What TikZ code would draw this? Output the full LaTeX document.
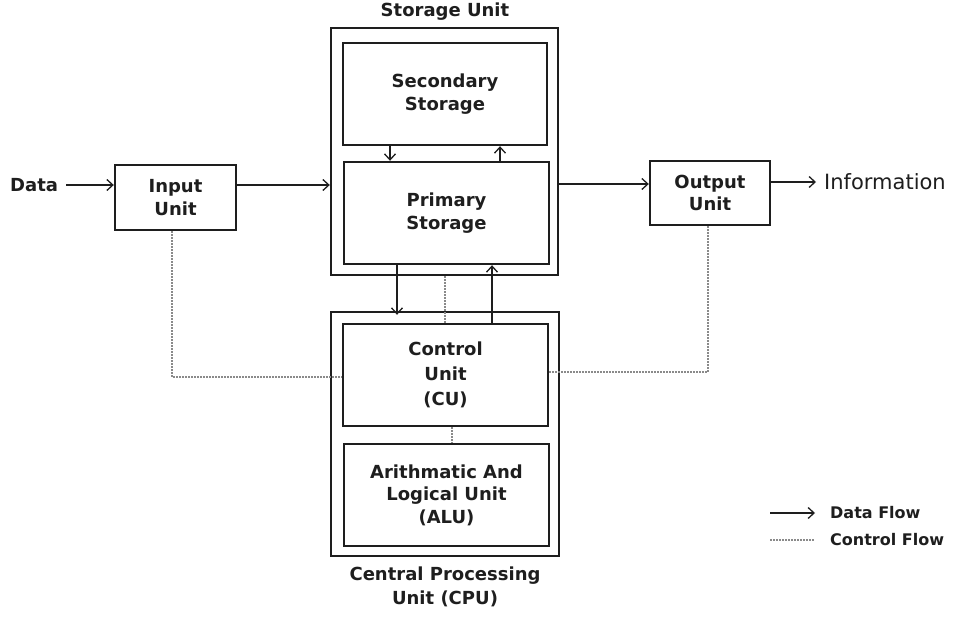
\documentclass[tikz,border=0pt]{standalone}
\usepackage{fontspec}
\setmainfont{DejaVu Sans}
\usetikzlibrary{arrows.meta,calc}
\definecolor{ink}{HTML}{1E1E1E}
\definecolor{dotc}{HTML}{8A8A8A}
\tikzset{
  box/.style={draw=ink, line width=2.4pt, rectangle, inner sep=0pt, align=center, text=ink,
    font=\fontsize{18}{22.5}\selectfont\bfseries},
  lbl/.style={text=ink, inner sep=0pt, align=center, font=\fontsize{18}{24}\selectfont\bfseries},
  flow/.style={draw=ink, line width=1.3pt, -{Straight Barb[length=6pt,width=11pt,line width=1.3pt]}},
  ctrl/.style={draw=dotc, line width=1.5pt, dash pattern=on 1.5pt off 1.5pt},
}
\begin{document}
\begin{tikzpicture}[x=1pt,y=-1pt]
\path[use as bounding box] (0,0) rectangle (955,617);
% storage unit
\node[box, minimum width=227pt, minimum height=247pt] (storage) at (444.5,151.5) {};
\node[box, minimum width=204pt, minimum height=102pt] (secondary) at (445,94) {Secondary\\Storage};
\node[box, minimum width=205pt, minimum height=102pt] (primary) at (446.5,213) {Primary\\Storage};
\node[lbl] (storagelbl) at (445,12) {Storage Unit};
% cpu
\node[box, minimum width=228pt, minimum height=244pt] (cpu) at (445,434) {};
\node[box, minimum width=205pt, minimum height=102pt, font=\fontsize{18}{25}\selectfont\bfseries] (cu) at (445.5,375) {Control\\Unit\\(CU)};
\node[box, minimum width=205pt, minimum height=102pt] (alu) at (446.5,495) {Arithmatic And\\Logical Unit\\(ALU)};
\node[lbl] (cpulbl) at (445,587) {Central Processing\\Unit (CPU)};
% input / output
\node[box, minimum width=121pt, minimum height=65pt] (input) at (175.5,197.5) {Input\\Unit};
\node[box, minimum width=120pt, minimum height=64pt] (output) at (710,193) {Output\\Unit};
\node[lbl, anchor=west] (data) at (10,185) {Data};
\node[lbl, anchor=west, font=\fontsize{21}{24}\selectfont] (info) at (824,182) {Information};
% data flow
\draw[flow] (data.east) ++(8,0) coordinate (dstart) (dstart) -- (input.west |- data);
\draw[flow] (input.east |- data) -- (storage.west |- data);
\coordinate (oy) at (600,184);
\draw[flow] (storage.east |- oy) -- (output.west |- oy);
\draw[flow] (output.east |- info) -- ($(info.west)+(-8,0)$);
% between storages
\coordinate (x390) at (390,0);
\coordinate (x500) at (500,0);
\coordinate (x397) at (397,0);
\coordinate (x492) at (492,0);
\draw[flow] (secondary.south -| x390) -- (primary.north -| x390);
\draw[flow] (primary.north -| x500) -- (secondary.south -| x500);
\draw[flow] (primary.south -| x397) -- ($(cpu.north -| x397)+(0,4)$);
\draw[flow] (cu.north -| x492) -- (primary.south -| x492);
% control flow
\coordinate (x172) at (172,0);
\coordinate (x708) at (708,0);
\coordinate (y377) at (0,377);
\coordinate (y372) at (0,372);
\coordinate (x445) at (445,0);
\coordinate (x452) at (452,0);
\draw[ctrl] (input.south -| x172) -- (x172 |- y377) -- (cu.west |- y377);
\draw[ctrl] (output.south -| x708) -- (x708 |- y372) -- (cu.east |- y372);
\draw[ctrl] (storage.south -| x445) -- (cu.north -| x445);
\draw[ctrl] (cu.south -| x452) -- (alu.north -| x452);
% legend
\coordinate (la1) at (770,513);
\coordinate (la2) at (815,513);
\coordinate (lc1) at (770,540);
\coordinate (lc2) at (815,540);
\draw[flow] (la1) -- (la2);
\draw[ctrl] (lc1) -- (lc2);
\node[lbl, anchor=west, font=\fontsize{16}{20}\selectfont\bfseries] (ldata) at (830,513) {Data Flow};
\node[lbl, anchor=west, font=\fontsize{16}{20}\selectfont\bfseries] (lctrl) at (830,540) {Control Flow};
\end{tikzpicture}
\end{document}
